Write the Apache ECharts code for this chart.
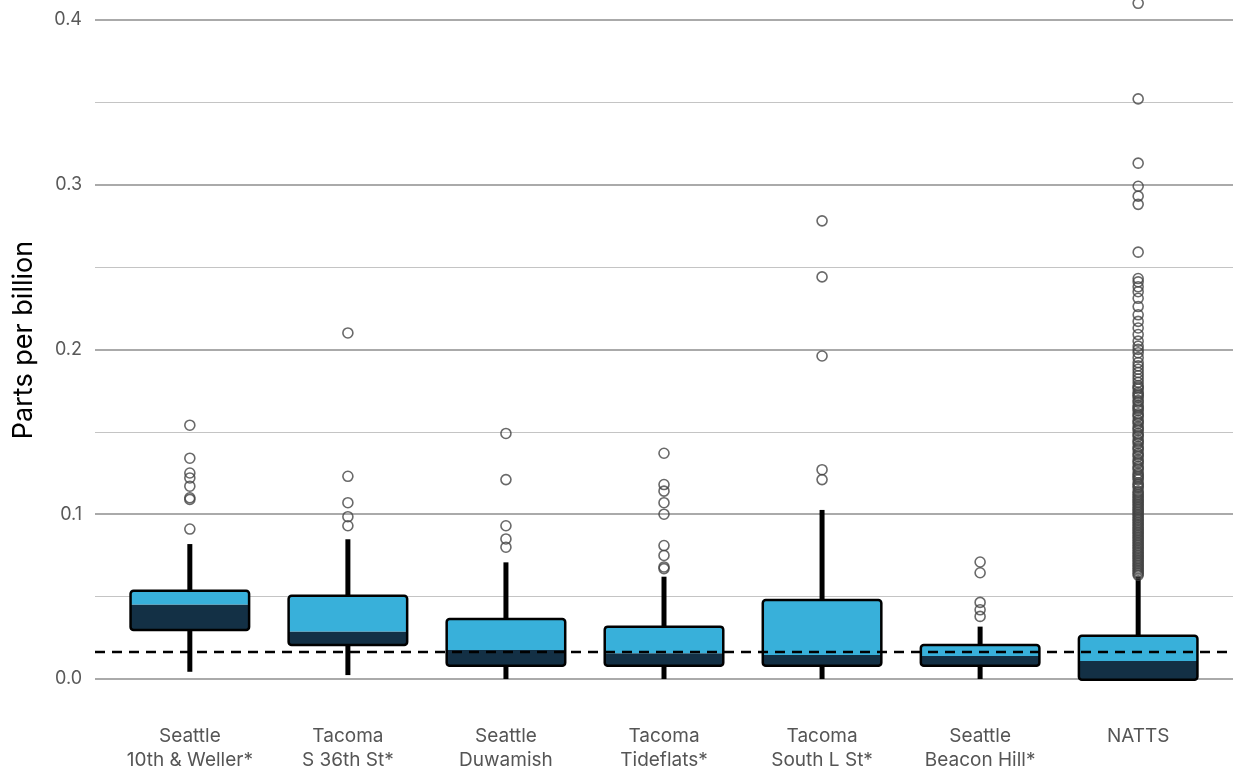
<!DOCTYPE html>
<html>
<head>
<meta charset="utf-8">
<script src="https://cdn.jsdelivr.net/npm/echarts@6/dist/echarts.min.js"></script>
<style>
  html, body { margin: 0; padding: 0; background: #fff; }
  #chart { width: 1236px; height: 778px; }
</style>
</head>
<body>
<div id="chart"></div>
<script>
// sites along the x axis
var categories = ['Seattle\n10th & Weller*', 'Tacoma\nS 36th St*', 'Seattle\nDuwamish', 'Tacoma\nTideflats*', 'Tacoma\nSouth L St*', 'Seattle\nBeacon Hill*', 'NATTS'];

// box stats (ppb)
var whiskerLow  = [0.0044, 0.0024, 0.0, 0.0, 0.0, 0.0, 0.0];
var q1          = [0.0297, 0.0206, 0.0081, 0.0081, 0.0081, 0.0081, -0.0005];
var median      = [0.0453, 0.0289, 0.0176, 0.0156, 0.0146, 0.0140, 0.0109];
var q3          = [0.0536, 0.0506, 0.0364, 0.0318, 0.0480, 0.0206, 0.0263];
var whiskerHigh = [0.0819, 0.0848, 0.0708, 0.0621, 0.1026, 0.0318, 0.0621];

// outliers per site
var outSeattleWeller = [0.154, 0.134, 0.125, 0.122, 0.117, 0.110, 0.109, 0.091];
var outTacomaS36 = [0.210, 0.123, 0.107, 0.0985, 0.093];
var outSeattleDuwamish = [0.149, 0.121, 0.093, 0.085, 0.080];
var outTacomaTideflats = [0.137, 0.118, 0.114, 0.107, 0.100, 0.081, 0.075, 0.068, 0.067];
var outTacomaSouthL = [0.278, 0.244, 0.196, 0.127, 0.121];
var outSeattleBeacon = [0.071, 0.0645, 0.0465, 0.042, 0.038];
var outNATTS = [0.410, 0.352, 0.313, 0.299, 0.293, 0.288, 0.259, 0.243, 0.241, 0.238, 0.235, 0.231,
  0.226, 0.221, 0.217, 0.213, 0.209, 0.205, 0.202, 0.198, 0.195, 0.190, 0.186, 0.182, 0.178, 0.176,
  0.173, 0.171, 0.168, 0.165, 0.163, 0.160, 0.157, 0.155, 0.152, 0.149, 0.147, 0.144, 0.141, 0.139,
  0.136, 0.133, 0.131, 0.128, 0.125, 0.123, 0.121, 0.118, 0.116, 0.113, 0.111, 0.109, 0.107, 0.105,
  0.103, 0.101, 0.099, 0.097, 0.095, 0.093, 0.091, 0.089, 0.087, 0.085, 0.083, 0.081, 0.079, 0.077,
  0.075, 0.073, 0.071, 0.069, 0.067, 0.065, 0.063,
  0.200, 0.192, 0.188, 0.184, 0.180, 0.177, 0.174, 0.172, 0.169, 0.166, 0.164, 0.161, 0.159, 0.156,
  0.153, 0.151, 0.148, 0.145, 0.143, 0.140, 0.137, 0.135, 0.132, 0.129, 0.127, 0.124, 0.122, 0.119,
  0.117, 0.114, 0.112, 0.110, 0.108, 0.106, 0.104, 0.102, 0.100, 0.098, 0.096, 0.094, 0.092, 0.090,
  0.088, 0.086, 0.084, 0.082, 0.080, 0.078, 0.076, 0.074, 0.072, 0.070, 0.068, 0.066, 0.064];
var outliers = [outSeattleWeller, outTacomaS36, outSeattleDuwamish, outTacomaTideflats, outTacomaSouthL, outSeattleBeacon, outNATTS];

// reference level (dashed)
var refLevel = 0.0166;

var yLabels = [0, 0.1, 0.2, 0.3, 0.4];
var majorGrid = [0, 0.1, 0.2, 0.3, 0.4];
var minorGrid = [0.05, 0.15, 0.25, 0.35];

var lightBlue = '#38b0da';
var darkNavy = '#133045';

var boxData = categories.map(function(c, i) {
  return [i + 1, whiskerLow[i], q1[i], median[i], q3[i], whiskerHigh[i]];
});

var outlierData = [];
outliers.forEach(function(list, i) {
  list.forEach(function(v) { outlierData.push([i + 1, v]); });
});

var gridLines = [];
majorGrid.forEach(function(v) {
  gridLines.push({ yAxis: v, lineStyle: { color: '#aaaaaa', width: 2, type: 'solid' } });
});
minorGrid.forEach(function(v) {
  gridLines.push({ yAxis: v, lineStyle: { color: '#c4c4c4', width: 1.2, type: 'solid' } });
});

function renderBox(params, api) {
  var x = api.value(0);
  var lo = api.coord([x, api.value(1)]);
  var pQ1 = api.coord([x, api.value(2)]);
  var pMed = api.coord([x, api.value(3)]);
  var pQ3 = api.coord([x, api.value(4)]);
  var hi = api.coord([x, api.value(5)]);
  var w = api.size([0.75, 0])[0];
  var left = pQ1[0] - w / 2;
  return {
    type: 'group',
    children: [
      // whiskers, only outside the box
      { type: 'line', shape: { x1: lo[0], y1: lo[1], x2: pQ1[0], y2: pQ1[1] }, style: { stroke: '#000', lineWidth: 5 } },
      { type: 'line', shape: { x1: pQ3[0], y1: pQ3[1], x2: hi[0], y2: hi[1] }, style: { stroke: '#000', lineWidth: 5 } },
      { type: 'rect', shape: { x: left, y: pMed[1], width: w, height: pQ1[1] - pMed[1] }, style: { fill: darkNavy } },
      { type: 'rect', shape: { x: left, y: pQ3[1], width: w, height: pMed[1] - pQ3[1] }, style: { fill: lightBlue } },
      { type: 'rect', shape: { x: left, y: pQ3[1], width: w, height: pQ1[1] - pQ3[1], r: 3 }, style: { fill: 'rgba(0,0,0,0)', stroke: '#000', lineWidth: 2.5 } }
    ]
  };
}

var chart = echarts.init(document.getElementById('chart'));
chart.setOption({
  animation: false,
  backgroundColor: '#fff',
  textStyle: { fontFamily: 'Inter, "Noto Sans", sans-serif' },
  grid: { left: 95, top: 0, width: 1138, height: 712 },
  xAxis: {
    type: 'value',
    min: 0.4,
    max: 7.6,
    axisLine: { show: false },
    axisTick: { show: false },
    splitLine: { show: false },
    axisLabel: {
      customValues: [1, 2, 3, 4, 5, 6, 7],
      formatter: function(v) { return categories[Math.round(v) - 1]; },
      color: '#555',
      fontSize: 19,
      lineHeight: 24,
      margin: 12
    }
  },
  yAxis: {
    type: 'value',
    min: -0.02,
    max: 0.412,
    name: 'Parts per billion',
    nameLocation: 'middle',
    nameRotate: 90,
    nameGap: 58,
    nameTextStyle: { color: '#000', fontSize: 27, padding: [0, 0, 0, 32] },
    axisLine: { show: false },
    axisTick: { show: false },
    splitLine: { show: false },
    axisLabel: {
      customValues: yLabels,
      formatter: function(v) { return v.toFixed(1); },
      color: '#595959',
      fontSize: 18,
      margin: 13
    }
  },
  series: [
    {
      type: 'line',
      data: [],
      z: 1,
      silent: true,
      markLine: { z: 1, silent: true, symbol: 'none', precision: 4, label: { show: false }, data: gridLines }
    },
    {
      type: 'custom',
      z: 2,
      renderItem: renderBox,
      encode: { x: 0, y: [1, 2, 3, 4, 5] },
      data: boxData
    },
    {
      type: 'line',
      data: [],
      z: 3,
      silent: true,
      markLine: {
        z: 3,
        silent: true,
        symbol: 'none',
        precision: 4,
        label: { show: false },
        lineStyle: { color: '#000', width: 2.3, type: [10, 7] },
        data: [{ yAxis: refLevel }]
      }
    },
    {
      type: 'scatter',
      z: 4,
      symbol: 'circle',
      symbolSize: 10,
      itemStyle: { color: 'rgba(0,0,0,0)', borderColor: '#444', borderWidth: 1.6 },
      data: outlierData
    }
  ]
});
</script>
</body>
</html>
